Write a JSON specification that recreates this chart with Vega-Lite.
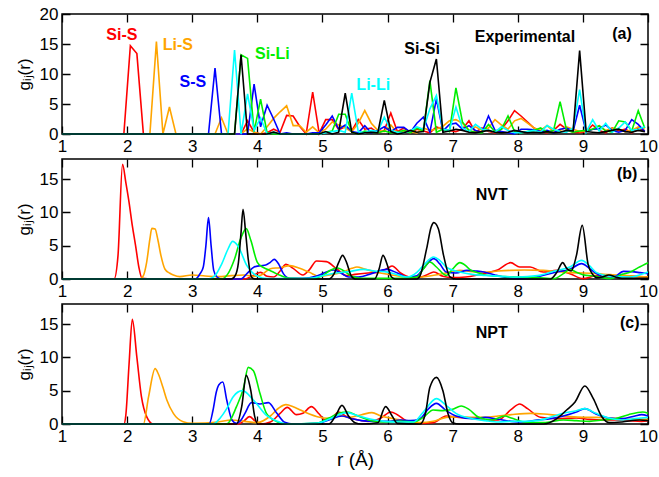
{
"$schema": "https://vega.github.io/schema/vega-lite/v6.json",
"padding": {"left": 14, "top": 4, "right": 5, "bottom": 4},
"bounds": "flush",
"spacing": 25,
"config": {
 "view": {"stroke": "black", "strokeWidth": 1.5},
 "font": "Liberation Sans",
 "axis": {"domain": false, "ticks": false, "grid": true, "gridColor": "black", "gridOpacity": 1, "gridWidth": 1.3, "labelFontSize": 17, "labelColor": "black", "labelFlush": false, "labelOverlap": false, "labelPadding": 4, "titleFontSize": 17, "titleFontWeight": "normal", "titleColor": "black", "titlePadding": 6},
 "axisX": {"gridDash": [8, 104]},
 "axisY": {"gridDash": [8, 570]}
},
"datasets": {
"a": [
{"s":"Si-S","r":1.0,"g":0},{"s":"Si-S","r":1.95,"g":0},{"s":"Si-S","r":2.05,"g":14.7},{"s":"Si-S","r":2.15,"g":13.4},{"s":"Si-S","r":2.25,"g":0},{"s":"Si-S","r":3.75,"g":0},{"s":"Si-S","r":3.85,"g":2.2},{"s":"Si-S","r":3.95,"g":0.3},{"s":"Si-S","r":4.05,"g":0},{"s":"Si-S","r":4.15,"g":0.2},{"s":"Si-S","r":4.25,"g":0.8},{"s":"Si-S","r":4.35,"g":0.3},{"s":"Si-S","r":4.45,"g":3.1},{"s":"Si-S","r":4.55,"g":3.0},{"s":"Si-S","r":4.65,"g":1.3},{"s":"Si-S","r":4.75,"g":0},{"s":"Si-S","r":4.85,"g":7.0},{"s":"Si-S","r":4.95,"g":0.1},{"s":"Si-S","r":5.05,"g":2.4},{"s":"Si-S","r":5.15,"g":2.4},{"s":"Si-S","r":5.25,"g":0.7},{"s":"Si-S","r":5.35,"g":1.2},{"s":"Si-S","r":5.45,"g":0.5},{"s":"Si-S","r":5.55,"g":2.4},{"s":"Si-S","r":5.65,"g":0.8},{"s":"Si-S","r":5.75,"g":1.0},{"s":"Si-S","r":5.85,"g":0.2},{"s":"Si-S","r":5.95,"g":0.6},{"s":"Si-S","r":6.05,"g":3.5},{"s":"Si-S","r":6.15,"g":0.4},{"s":"Si-S","r":6.25,"g":1.0},{"s":"Si-S","r":6.35,"g":0.2},{"s":"Si-S","r":6.45,"g":0.8},{"s":"Si-S","r":6.55,"g":0.5},{"s":"Si-S","r":6.65,"g":0.2},{"s":"Si-S","r":6.75,"g":1.2},{"s":"Si-S","r":6.85,"g":0.8},{"s":"Si-S","r":6.95,"g":0.6},{"s":"Si-S","r":7.05,"g":0.4},{"s":"Si-S","r":7.15,"g":0.8},{"s":"Si-S","r":7.25,"g":2.2},{"s":"Si-S","r":7.35,"g":0.3},{"s":"Si-S","r":7.45,"g":1.0},{"s":"Si-S","r":7.55,"g":0.4},{"s":"Si-S","r":7.65,"g":0.2},{"s":"Si-S","r":7.75,"g":0.8},{"s":"Si-S","r":7.85,"g":2.2},{"s":"Si-S","r":7.95,"g":3.9},{"s":"Si-S","r":8.05,"g":3.0},{"s":"Si-S","r":8.15,"g":2.0},{"s":"Si-S","r":8.25,"g":1.0},{"s":"Si-S","r":8.35,"g":0.4},{"s":"Si-S","r":8.45,"g":0.2},{"s":"Si-S","r":8.55,"g":0.6},{"s":"Si-S","r":8.65,"g":1.6},{"s":"Si-S","r":8.75,"g":0.8},{"s":"Si-S","r":8.85,"g":0.3},{"s":"Si-S","r":8.95,"g":0.2},{"s":"Si-S","r":9.05,"g":0.4},{"s":"Si-S","r":9.15,"g":1.5},{"s":"Si-S","r":9.25,"g":0.6},{"s":"Si-S","r":9.35,"g":0.2},{"s":"Si-S","r":9.45,"g":1.0},{"s":"Si-S","r":9.55,"g":0.5},{"s":"Si-S","r":9.65,"g":0.8},{"s":"Si-S","r":9.75,"g":0.2},{"s":"Si-S","r":9.85,"g":1.0},{"s":"Si-S","r":9.95,"g":0.4},
{"s":"Li-S","r":1.0,"g":0},{"s":"Li-S","r":2.35,"g":0},{"s":"Li-S","r":2.45,"g":15.4},{"s":"Li-S","r":2.55,"g":0},{"s":"Li-S","r":2.65,"g":4.5},{"s":"Li-S","r":2.75,"g":0},{"s":"Li-S","r":3.35,"g":0},{"s":"Li-S","r":3.45,"g":2.7},{"s":"Li-S","r":3.55,"g":0},{"s":"Li-S","r":3.75,"g":0},{"s":"Li-S","r":3.85,"g":0.9},{"s":"Li-S","r":3.95,"g":0.3},{"s":"Li-S","r":4.05,"g":0},{"s":"Li-S","r":4.15,"g":1.2},{"s":"Li-S","r":4.25,"g":2.6},{"s":"Li-S","r":4.35,"g":3.7},{"s":"Li-S","r":4.45,"g":4.7},{"s":"Li-S","r":4.55,"g":1.4},{"s":"Li-S","r":4.65,"g":1.4},{"s":"Li-S","r":4.75,"g":0.3},{"s":"Li-S","r":4.85,"g":1.2},{"s":"Li-S","r":4.95,"g":0.2},{"s":"Li-S","r":5.05,"g":0.8},{"s":"Li-S","r":5.15,"g":2.0},{"s":"Li-S","r":5.25,"g":1.5},{"s":"Li-S","r":5.35,"g":1.0},{"s":"Li-S","r":5.45,"g":0.4},{"s":"Li-S","r":5.55,"g":1.8},{"s":"Li-S","r":5.65,"g":3.9},{"s":"Li-S","r":5.75,"g":1.8},{"s":"Li-S","r":5.85,"g":0.6},{"s":"Li-S","r":5.95,"g":0.4},{"s":"Li-S","r":6.05,"g":1.5},{"s":"Li-S","r":6.15,"g":0.2},{"s":"Li-S","r":6.25,"g":0.5},{"s":"Li-S","r":6.35,"g":0.4},{"s":"Li-S","r":6.45,"g":0.2},{"s":"Li-S","r":6.55,"g":1.0},{"s":"Li-S","r":6.65,"g":0.6},{"s":"Li-S","r":6.75,"g":0.8},{"s":"Li-S","r":6.85,"g":1.3},{"s":"Li-S","r":6.95,"g":2.2},{"s":"Li-S","r":7.05,"g":2.4},{"s":"Li-S","r":7.15,"g":1.8},{"s":"Li-S","r":7.25,"g":0.6},{"s":"Li-S","r":7.35,"g":1.2},{"s":"Li-S","r":7.45,"g":0.6},{"s":"Li-S","r":7.55,"g":1.0},{"s":"Li-S","r":7.65,"g":2.4},{"s":"Li-S","r":7.75,"g":1.5},{"s":"Li-S","r":7.85,"g":0.8},{"s":"Li-S","r":7.95,"g":2.2},{"s":"Li-S","r":8.05,"g":2.6},{"s":"Li-S","r":8.15,"g":1.8},{"s":"Li-S","r":8.25,"g":1.0},{"s":"Li-S","r":8.35,"g":0.6},{"s":"Li-S","r":8.45,"g":1.4},{"s":"Li-S","r":8.55,"g":0.4},{"s":"Li-S","r":8.65,"g":0.6},{"s":"Li-S","r":8.75,"g":1.2},{"s":"Li-S","r":8.85,"g":0.8},{"s":"Li-S","r":8.95,"g":0.4},{"s":"Li-S","r":9.05,"g":0.5},{"s":"Li-S","r":9.15,"g":0.8},{"s":"Li-S","r":9.25,"g":1.4},{"s":"Li-S","r":9.35,"g":0.6},{"s":"Li-S","r":9.45,"g":1.0},{"s":"Li-S","r":9.55,"g":0.8},{"s":"Li-S","r":9.65,"g":0.4},{"s":"Li-S","r":9.75,"g":0.6},{"s":"Li-S","r":9.85,"g":1.2},{"s":"Li-S","r":9.95,"g":0.8},
{"s":"S-S","r":1.0,"g":0},{"s":"S-S","r":3.25,"g":0},{"s":"S-S","r":3.35,"g":11.0},{"s":"S-S","r":3.45,"g":0},{"s":"S-S","r":3.85,"g":0},{"s":"S-S","r":3.95,"g":8.3},{"s":"S-S","r":4.05,"g":1.2},{"s":"S-S","r":4.15,"g":4.8},{"s":"S-S","r":4.25,"g":2.5},{"s":"S-S","r":4.35,"g":0},{"s":"S-S","r":4.45,"g":0.2},{"s":"S-S","r":4.55,"g":0},{"s":"S-S","r":4.75,"g":0},{"s":"S-S","r":4.85,"g":0.2},{"s":"S-S","r":4.95,"g":0.2},{"s":"S-S","r":5.05,"g":1.5},{"s":"S-S","r":5.15,"g":3.0},{"s":"S-S","r":5.25,"g":0.8},{"s":"S-S","r":5.35,"g":1.5},{"s":"S-S","r":5.45,"g":0.4},{"s":"S-S","r":5.55,"g":0.2},{"s":"S-S","r":5.65,"g":1.4},{"s":"S-S","r":5.75,"g":0.2},{"s":"S-S","r":5.85,"g":0.6},{"s":"S-S","r":5.95,"g":1.2},{"s":"S-S","r":6.05,"g":0.4},{"s":"S-S","r":6.15,"g":1.1},{"s":"S-S","r":6.25,"g":1.1},{"s":"S-S","r":6.35,"g":0.3},{"s":"S-S","r":6.45,"g":1.8},{"s":"S-S","r":6.55,"g":2.8},{"s":"S-S","r":6.65,"g":0.3},{"s":"S-S","r":6.75,"g":5.8},{"s":"S-S","r":6.85,"g":0.5},{"s":"S-S","r":6.95,"g":1.6},{"s":"S-S","r":7.05,"g":1.8},{"s":"S-S","r":7.15,"g":0.8},{"s":"S-S","r":7.25,"g":1.4},{"s":"S-S","r":7.35,"g":0.6},{"s":"S-S","r":7.45,"g":0.3},{"s":"S-S","r":7.55,"g":3.0},{"s":"S-S","r":7.65,"g":0.6},{"s":"S-S","r":7.75,"g":0.4},{"s":"S-S","r":7.85,"g":0.2},{"s":"S-S","r":7.95,"g":0},{"s":"S-S","r":8.05,"g":0.8},{"s":"S-S","r":8.15,"g":0.8},{"s":"S-S","r":8.25,"g":0.7},{"s":"S-S","r":8.35,"g":0.4},{"s":"S-S","r":8.45,"g":0.6},{"s":"S-S","r":8.55,"g":0.2},{"s":"S-S","r":8.65,"g":0.8},{"s":"S-S","r":8.75,"g":1.0},{"s":"S-S","r":8.85,"g":0.5},{"s":"S-S","r":8.95,"g":4.8},{"s":"S-S","r":9.05,"g":0.4},{"s":"S-S","r":9.15,"g":0.8},{"s":"S-S","r":9.25,"g":0.9},{"s":"S-S","r":9.35,"g":1.5},{"s":"S-S","r":9.45,"g":0.6},{"s":"S-S","r":9.55,"g":0.3},{"s":"S-S","r":9.65,"g":0.6},{"s":"S-S","r":9.75,"g":2.4},{"s":"S-S","r":9.85,"g":1.6},{"s":"S-S","r":9.95,"g":0.4},
{"s":"Si-Li","r":1.0,"g":0},{"s":"Si-Li","r":3.65,"g":0},{"s":"Si-Li","r":3.75,"g":13.2},{"s":"Si-Li","r":3.85,"g":12.6},{"s":"Si-Li","r":3.95,"g":0.4},{"s":"Si-Li","r":4.05,"g":5.8},{"s":"Si-Li","r":4.15,"g":0.2},{"s":"Si-Li","r":4.25,"g":0},{"s":"Si-Li","r":4.95,"g":0},{"s":"Si-Li","r":5.05,"g":0.3},{"s":"Si-Li","r":5.15,"g":0.5},{"s":"Si-Li","r":5.25,"g":3.3},{"s":"Si-Li","r":5.35,"g":3.3},{"s":"Si-Li","r":5.45,"g":0.3},{"s":"Si-Li","r":5.55,"g":0},{"s":"Si-Li","r":5.65,"g":0.5},{"s":"Si-Li","r":5.75,"g":0.3},{"s":"Si-Li","r":5.85,"g":0.2},{"s":"Si-Li","r":5.95,"g":0.5},{"s":"Si-Li","r":6.05,"g":0.2},{"s":"Si-Li","r":6.15,"g":0.3},{"s":"Si-Li","r":6.25,"g":0.6},{"s":"Si-Li","r":6.35,"g":0.2},{"s":"Si-Li","r":6.45,"g":1.0},{"s":"Si-Li","r":6.55,"g":0.5},{"s":"Si-Li","r":6.65,"g":8.9},{"s":"Si-Li","r":6.75,"g":0.3},{"s":"Si-Li","r":6.85,"g":0.8},{"s":"Si-Li","r":6.95,"g":0.4},{"s":"Si-Li","r":7.05,"g":7.7},{"s":"Si-Li","r":7.15,"g":2.0},{"s":"Si-Li","r":7.25,"g":0.6},{"s":"Si-Li","r":7.35,"g":0.3},{"s":"Si-Li","r":7.45,"g":0.2},{"s":"Si-Li","r":7.55,"g":1.6},{"s":"Si-Li","r":7.65,"g":0.4},{"s":"Si-Li","r":7.75,"g":0.8},{"s":"Si-Li","r":7.85,"g":3.0},{"s":"Si-Li","r":7.95,"g":0.4},{"s":"Si-Li","r":8.05,"g":0.2},{"s":"Si-Li","r":8.15,"g":0.4},{"s":"Si-Li","r":8.25,"g":0.6},{"s":"Si-Li","r":8.35,"g":1.0},{"s":"Si-Li","r":8.45,"g":0.3},{"s":"Si-Li","r":8.55,"g":0.6},{"s":"Si-Li","r":8.65,"g":5.4},{"s":"Si-Li","r":8.75,"g":0.6},{"s":"Si-Li","r":8.85,"g":0.3},{"s":"Si-Li","r":8.95,"g":0.5},{"s":"Si-Li","r":9.05,"g":0.6},{"s":"Si-Li","r":9.15,"g":0.8},{"s":"Si-Li","r":9.25,"g":1.4},{"s":"Si-Li","r":9.35,"g":0.5},{"s":"Si-Li","r":9.45,"g":0.3},{"s":"Si-Li","r":9.55,"g":2.2},{"s":"Si-Li","r":9.65,"g":2.0},{"s":"Si-Li","r":9.75,"g":0.5},{"s":"Si-Li","r":9.85,"g":3.9},{"s":"Si-Li","r":9.95,"g":1.0},
{"s":"Li-Li","r":1.0,"g":0},{"s":"Li-Li","r":3.55,"g":0},{"s":"Li-Li","r":3.65,"g":14.0},{"s":"Li-Li","r":3.75,"g":0},{"s":"Li-Li","r":3.85,"g":6.7},{"s":"Li-Li","r":3.95,"g":0.6},{"s":"Li-Li","r":4.05,"g":2.7},{"s":"Li-Li","r":4.15,"g":0},{"s":"Li-Li","r":4.25,"g":0.3},{"s":"Li-Li","r":4.35,"g":0},{"s":"Li-Li","r":4.95,"g":0},{"s":"Li-Li","r":5.05,"g":0.2},{"s":"Li-Li","r":5.15,"g":0.4},{"s":"Li-Li","r":5.25,"g":0.6},{"s":"Li-Li","r":5.35,"g":0.3},{"s":"Li-Li","r":5.45,"g":6.8},{"s":"Li-Li","r":5.55,"g":0.4},{"s":"Li-Li","r":5.65,"g":0.2},{"s":"Li-Li","r":5.75,"g":0.6},{"s":"Li-Li","r":5.85,"g":0.4},{"s":"Li-Li","r":5.95,"g":2.8},{"s":"Li-Li","r":6.05,"g":0.6},{"s":"Li-Li","r":6.15,"g":0.3},{"s":"Li-Li","r":6.25,"g":0.2},{"s":"Li-Li","r":6.35,"g":0.5},{"s":"Li-Li","r":6.45,"g":1.2},{"s":"Li-Li","r":6.55,"g":0.8},{"s":"Li-Li","r":6.65,"g":4.2},{"s":"Li-Li","r":6.75,"g":6.4},{"s":"Li-Li","r":6.85,"g":0.8},{"s":"Li-Li","r":6.95,"g":0.6},{"s":"Li-Li","r":7.05,"g":4.5},{"s":"Li-Li","r":7.15,"g":1.0},{"s":"Li-Li","r":7.25,"g":0.4},{"s":"Li-Li","r":7.35,"g":1.6},{"s":"Li-Li","r":7.45,"g":0.8},{"s":"Li-Li","r":7.55,"g":0.6},{"s":"Li-Li","r":7.65,"g":0.3},{"s":"Li-Li","r":7.75,"g":1.2},{"s":"Li-Li","r":7.85,"g":0.6},{"s":"Li-Li","r":7.95,"g":0.2},{"s":"Li-Li","r":8.05,"g":0.2},{"s":"Li-Li","r":8.15,"g":0.4},{"s":"Li-Li","r":8.25,"g":0.6},{"s":"Li-Li","r":8.35,"g":0.3},{"s":"Li-Li","r":8.45,"g":1.4},{"s":"Li-Li","r":8.55,"g":0.8},{"s":"Li-Li","r":8.65,"g":0.4},{"s":"Li-Li","r":8.75,"g":0.3},{"s":"Li-Li","r":8.85,"g":1.0},{"s":"Li-Li","r":8.95,"g":7.4},{"s":"Li-Li","r":9.05,"g":0.3},{"s":"Li-Li","r":9.15,"g":2.4},{"s":"Li-Li","r":9.25,"g":0.5},{"s":"Li-Li","r":9.35,"g":1.8},{"s":"Li-Li","r":9.45,"g":0.3},{"s":"Li-Li","r":9.55,"g":1.0},{"s":"Li-Li","r":9.65,"g":2.0},{"s":"Li-Li","r":9.75,"g":0.6},{"s":"Li-Li","r":9.85,"g":0.8},{"s":"Li-Li","r":9.95,"g":1.2},
{"s":"Si-Si","r":1.0,"g":0},{"s":"Si-Si","r":3.65,"g":0},{"s":"Si-Si","r":3.75,"g":13.2},{"s":"Si-Si","r":3.85,"g":0},{"s":"Si-Si","r":4.15,"g":0},{"s":"Si-Si","r":4.25,"g":0.3},{"s":"Si-Si","r":4.35,"g":0},{"s":"Si-Si","r":4.95,"g":0},{"s":"Si-Si","r":5.05,"g":0.4},{"s":"Si-Si","r":5.15,"g":0},{"s":"Si-Si","r":5.25,"g":0.3},{"s":"Si-Si","r":5.35,"g":6.8},{"s":"Si-Si","r":5.45,"g":0.3},{"s":"Si-Si","r":5.55,"g":0},{"s":"Si-Si","r":5.65,"g":0.2},{"s":"Si-Si","r":5.75,"g":0.3},{"s":"Si-Si","r":5.85,"g":0.2},{"s":"Si-Si","r":5.95,"g":5.6},{"s":"Si-Si","r":6.05,"g":0.4},{"s":"Si-Si","r":6.15,"g":0},{"s":"Si-Si","r":6.25,"g":0.2},{"s":"Si-Si","r":6.35,"g":0.6},{"s":"Si-Si","r":6.45,"g":0.3},{"s":"Si-Si","r":6.55,"g":0.4},{"s":"Si-Si","r":6.65,"g":8.6},{"s":"Si-Si","r":6.75,"g":12.5},{"s":"Si-Si","r":6.85,"g":0.3},{"s":"Si-Si","r":6.95,"g":0.5},{"s":"Si-Si","r":7.05,"g":0.8},{"s":"Si-Si","r":7.15,"g":0.6},{"s":"Si-Si","r":7.25,"g":0.3},{"s":"Si-Si","r":7.35,"g":0.2},{"s":"Si-Si","r":7.45,"g":0.4},{"s":"Si-Si","r":7.55,"g":0.6},{"s":"Si-Si","r":7.65,"g":0.3},{"s":"Si-Si","r":7.75,"g":0.2},{"s":"Si-Si","r":7.85,"g":0.3},{"s":"Si-Si","r":7.95,"g":0.6},{"s":"Si-Si","r":8.05,"g":0.4},{"s":"Si-Si","r":8.15,"g":0.2},{"s":"Si-Si","r":8.25,"g":0.3},{"s":"Si-Si","r":8.35,"g":0.2},{"s":"Si-Si","r":8.45,"g":0.4},{"s":"Si-Si","r":8.55,"g":0.2},{"s":"Si-Si","r":8.65,"g":0.3},{"s":"Si-Si","r":8.75,"g":0.6},{"s":"Si-Si","r":8.85,"g":0.5},{"s":"Si-Si","r":8.95,"g":13.9},{"s":"Si-Si","r":9.05,"g":0.4},{"s":"Si-Si","r":9.15,"g":0.3},{"s":"Si-Si","r":9.25,"g":0.2},{"s":"Si-Si","r":9.35,"g":0.4},{"s":"Si-Si","r":9.45,"g":0.6},{"s":"Si-Si","r":9.55,"g":0.8},{"s":"Si-Si","r":9.65,"g":0.4},{"s":"Si-Si","r":9.75,"g":0.3},{"s":"Si-Si","r":9.85,"g":0.6},{"s":"Si-Si","r":9.95,"g":0.4}
],
"b": [
{"s":"Si-S","r":1.0,"g":0},{"s":"Si-S","r":1.8,"g":0},{"s":"Si-S","r":1.86,"g":3.5},{"s":"Si-S","r":1.93,"g":17.2},{"s":"Si-S","r":1.98,"g":14.5},{"s":"Si-S","r":2.03,"g":11.5},{"s":"Si-S","r":2.08,"g":8.0},{"s":"Si-S","r":2.13,"g":5.0},{"s":"Si-S","r":2.18,"g":1.8},{"s":"Si-S","r":2.23,"g":0.1},{"s":"Si-S","r":2.4,"g":0},{"s":"Si-S","r":3.8,"g":0},{"s":"Si-S","r":3.95,"g":0.6},{"s":"Si-S","r":4.05,"g":1.0},{"s":"Si-S","r":4.15,"g":0.4},{"s":"Si-S","r":4.25,"g":0.3},{"s":"Si-S","r":4.35,"g":1.2},{"s":"Si-S","r":4.44,"g":2.2},{"s":"Si-S","r":4.55,"g":1.6},{"s":"Si-S","r":4.7,"g":0.6},{"s":"Si-S","r":4.8,"g":1.4},{"s":"Si-S","r":4.91,"g":2.7},{"s":"Si-S","r":5.06,"g":2.6},{"s":"Si-S","r":5.22,"g":1.5},{"s":"Si-S","r":5.37,"g":0.5},{"s":"Si-S","r":5.5,"g":0.7},{"s":"Si-S","r":5.7,"g":0.9},{"s":"Si-S","r":5.85,"g":1.0},{"s":"Si-S","r":6.0,"g":1.6},{"s":"Si-S","r":6.07,"g":1.95},{"s":"Si-S","r":6.2,"g":0.9},{"s":"Si-S","r":6.35,"g":0.3},{"s":"Si-S","r":6.5,"g":0.3},{"s":"Si-S","r":6.6,"g":0.6},{"s":"Si-S","r":6.71,"g":1.05},{"s":"Si-S","r":6.85,"g":0.4},{"s":"Si-S","r":7.0,"g":0.2},{"s":"Si-S","r":7.2,"g":0.3},{"s":"Si-S","r":7.52,"g":0.9},{"s":"Si-S","r":7.7,"g":1.4},{"s":"Si-S","r":7.89,"g":2.45},{"s":"Si-S","r":8.03,"g":1.8},{"s":"Si-S","r":8.19,"g":1.8},{"s":"Si-S","r":8.39,"g":1.05},{"s":"Si-S","r":8.6,"g":1.3},{"s":"Si-S","r":8.8,"g":0.8},{"s":"Si-S","r":9.0,"g":0.05},{"s":"Si-S","r":9.21,"g":0.5},{"s":"Si-S","r":9.42,"g":0.3},{"s":"Si-S","r":9.62,"g":0.5},{"s":"Si-S","r":9.8,"g":0.4},{"s":"Si-S","r":10.0,"g":0.3},
{"s":"Li-S","r":1.0,"g":0},{"s":"Li-S","r":2.2,"g":0},{"s":"Li-S","r":2.25,"g":0.5},{"s":"Li-S","r":2.3,"g":2.5},{"s":"Li-S","r":2.35,"g":6.0},{"s":"Li-S","r":2.38,"g":7.6},{"s":"Li-S","r":2.43,"g":7.5},{"s":"Li-S","r":2.47,"g":6.0},{"s":"Li-S","r":2.52,"g":3.5},{"s":"Li-S","r":2.58,"g":1.5},{"s":"Li-S","r":2.65,"g":0.9},{"s":"Li-S","r":2.71,"g":0.6},{"s":"Li-S","r":2.81,"g":0.35},{"s":"Li-S","r":3.0,"g":0.6},{"s":"Li-S","r":3.2,"g":0.45},{"s":"Li-S","r":3.4,"g":0.35},{"s":"Li-S","r":3.6,"g":0.5},{"s":"Li-S","r":3.8,"g":0.6},{"s":"Li-S","r":3.95,"g":0.4},{"s":"Li-S","r":4.06,"g":0.6},{"s":"Li-S","r":4.2,"g":1.55},{"s":"Li-S","r":4.35,"g":1.7},{"s":"Li-S","r":4.5,"g":2.0},{"s":"Li-S","r":4.65,"g":1.6},{"s":"Li-S","r":4.8,"g":1.0},{"s":"Li-S","r":4.95,"g":0.4},{"s":"Li-S","r":5.1,"g":0.6},{"s":"Li-S","r":5.3,"g":1.0},{"s":"Li-S","r":5.45,"g":1.6},{"s":"Li-S","r":5.53,"g":1.8},{"s":"Li-S","r":5.65,"g":1.5},{"s":"Li-S","r":5.8,"g":1.1},{"s":"Li-S","r":6.0,"g":0.7},{"s":"Li-S","r":6.2,"g":0.4},{"s":"Li-S","r":6.35,"g":0.3},{"s":"Li-S","r":6.5,"g":0.3},{"s":"Li-S","r":6.71,"g":0.55},{"s":"Li-S","r":6.9,"g":0.9},{"s":"Li-S","r":7.11,"g":1.3},{"s":"Li-S","r":7.3,"g":1.1},{"s":"Li-S","r":7.52,"g":1.05},{"s":"Li-S","r":7.7,"g":1.2},{"s":"Li-S","r":7.89,"g":1.3},{"s":"Li-S","r":8.1,"g":1.35},{"s":"Li-S","r":8.39,"g":1.3},{"s":"Li-S","r":8.6,"g":1.1},{"s":"Li-S","r":8.8,"g":0.95},{"s":"Li-S","r":9.0,"g":0.9},{"s":"Li-S","r":9.21,"g":0.8},{"s":"Li-S","r":9.42,"g":0.65},{"s":"Li-S","r":9.62,"g":0.55},{"s":"Li-S","r":9.8,"g":0.4},{"s":"Li-S","r":10.0,"g":0.3},
{"s":"S-S","r":1.0,"g":0},{"s":"S-S","r":3.05,"g":0},{"s":"S-S","r":3.12,"g":0.8},{"s":"S-S","r":3.17,"g":1.8},{"s":"S-S","r":3.21,"g":5.0},{"s":"S-S","r":3.25,"g":9.2},{"s":"S-S","r":3.29,"g":5.0},{"s":"S-S","r":3.33,"g":1.3},{"s":"S-S","r":3.38,"g":0.3},{"s":"S-S","r":3.45,"g":0},{"s":"S-S","r":3.75,"g":0},{"s":"S-S","r":3.84,"g":0.8},{"s":"S-S","r":3.95,"g":1.8},{"s":"S-S","r":4.05,"g":2.0},{"s":"S-S","r":4.13,"g":2.1},{"s":"S-S","r":4.2,"g":2.5},{"s":"S-S","r":4.26,"g":2.95},{"s":"S-S","r":4.33,"g":2.2},{"s":"S-S","r":4.4,"g":0.8},{"s":"S-S","r":4.5,"g":0.1},{"s":"S-S","r":4.7,"g":0.1},{"s":"S-S","r":4.9,"g":0.4},{"s":"S-S","r":5.05,"g":1.0},{"s":"S-S","r":5.17,"g":1.35},{"s":"S-S","r":5.3,"g":0.8},{"s":"S-S","r":5.4,"g":0.3},{"s":"S-S","r":5.55,"g":0.3},{"s":"S-S","r":5.75,"g":0.8},{"s":"S-S","r":5.9,"g":1.3},{"s":"S-S","r":5.99,"g":1.45},{"s":"S-S","r":6.15,"g":0.9},{"s":"S-S","r":6.3,"g":0.3},{"s":"S-S","r":6.45,"g":0.5},{"s":"S-S","r":6.55,"g":1.55},{"s":"S-S","r":6.71,"g":3.05},{"s":"S-S","r":6.8,"g":2.3},{"s":"S-S","r":6.9,"g":1.05},{"s":"S-S","r":7.05,"g":0.9},{"s":"S-S","r":7.22,"g":1.3},{"s":"S-S","r":7.35,"g":1.2},{"s":"S-S","r":7.48,"g":1.05},{"s":"S-S","r":7.65,"g":0.6},{"s":"S-S","r":7.78,"g":0.3},{"s":"S-S","r":8.03,"g":0.05},{"s":"S-S","r":8.29,"g":0.3},{"s":"S-S","r":8.55,"g":0.95},{"s":"S-S","r":8.8,"g":1.45},{"s":"S-S","r":8.98,"g":2.3},{"s":"S-S","r":9.1,"g":1.6},{"s":"S-S","r":9.21,"g":0.8},{"s":"S-S","r":9.4,"g":0.05},{"s":"S-S","r":9.5,"g":0.4},{"s":"S-S","r":9.62,"g":1.15},{"s":"S-S","r":9.75,"g":1.1},{"s":"S-S","r":9.88,"g":0.95},{"s":"S-S","r":10.0,"g":0.8},
{"s":"Si-Li","r":1.0,"g":0},{"s":"Si-Li","r":3.45,"g":0},{"s":"Si-Li","r":3.55,"g":0.8},{"s":"Si-Li","r":3.65,"g":3.0},{"s":"Si-Li","r":3.75,"g":6.2},{"s":"Si-Li","r":3.83,"g":7.55},{"s":"Si-Li","r":3.9,"g":5.8},{"s":"Si-Li","r":4.0,"g":2.5},{"s":"Si-Li","r":4.08,"g":1.8},{"s":"Si-Li","r":4.15,"g":1.45},{"s":"Si-Li","r":4.25,"g":1.0},{"s":"Si-Li","r":4.35,"g":0.55},{"s":"Si-Li","r":4.5,"g":0.1},{"s":"Si-Li","r":4.8,"g":0.05},{"s":"Si-Li","r":5.0,"g":0.5},{"s":"Si-Li","r":5.12,"g":1.3},{"s":"Si-Li","r":5.22,"g":1.65},{"s":"Si-Li","r":5.3,"g":1.4},{"s":"Si-Li","r":5.45,"g":0.4},{"s":"Si-Li","r":5.6,"g":0.1},{"s":"Si-Li","r":5.9,"g":0.1},{"s":"Si-Li","r":6.2,"g":0.1},{"s":"Si-Li","r":6.45,"g":0.3},{"s":"Si-Li","r":6.55,"g":1.5},{"s":"Si-Li","r":6.65,"g":2.55},{"s":"Si-Li","r":6.75,"g":1.8},{"s":"Si-Li","r":6.9,"g":0.55},{"s":"Si-Li","r":7.0,"g":1.5},{"s":"Si-Li","r":7.11,"g":2.45},{"s":"Si-Li","r":7.2,"g":2.0},{"s":"Si-Li","r":7.26,"g":1.45},{"s":"Si-Li","r":7.4,"g":0.9},{"s":"Si-Li","r":7.52,"g":0.55},{"s":"Si-Li","r":7.8,"g":0.35},{"s":"Si-Li","r":8.0,"g":0.3},{"s":"Si-Li","r":8.3,"g":0.2},{"s":"Si-Li","r":8.55,"g":0.05},{"s":"Si-Li","r":8.7,"g":0.8},{"s":"Si-Li","r":8.8,"g":1.45},{"s":"Si-Li","r":8.9,"g":1.0},{"s":"Si-Li","r":9.0,"g":0.65},{"s":"Si-Li","r":9.2,"g":0.4},{"s":"Si-Li","r":9.42,"g":0.05},{"s":"Si-Li","r":9.6,"g":0.7},{"s":"Si-Li","r":9.73,"g":1.05},{"s":"Si-Li","r":9.85,"g":1.7},{"s":"Si-Li","r":10.0,"g":2.45},
{"s":"Li-Li","r":1.0,"g":0},{"s":"Li-Li","r":3.25,"g":0},{"s":"Li-Li","r":3.35,"g":0.5},{"s":"Li-Li","r":3.45,"g":2.2},{"s":"Li-Li","r":3.55,"g":4.5},{"s":"Li-Li","r":3.62,"g":5.65},{"s":"Li-Li","r":3.7,"g":5.0},{"s":"Li-Li","r":3.84,"g":2.0},{"s":"Li-Li","r":3.92,"g":1.0},{"s":"Li-Li","r":4.0,"g":0.45},{"s":"Li-Li","r":4.15,"g":0.05},{"s":"Li-Li","r":4.5,"g":0.05},{"s":"Li-Li","r":4.8,"g":0.1},{"s":"Li-Li","r":5.0,"g":0.5},{"s":"Li-Li","r":5.2,"g":0.9},{"s":"Li-Li","r":5.4,"g":1.1},{"s":"Li-Li","r":5.63,"g":1.45},{"s":"Li-Li","r":5.8,"g":1.2},{"s":"Li-Li","r":5.95,"g":1.1},{"s":"Li-Li","r":6.1,"g":0.8},{"s":"Li-Li","r":6.3,"g":0.3},{"s":"Li-Li","r":6.45,"g":1.0},{"s":"Li-Li","r":6.55,"g":2.05},{"s":"Li-Li","r":6.71,"g":3.3},{"s":"Li-Li","r":6.8,"g":2.8},{"s":"Li-Li","r":6.9,"g":1.8},{"s":"Li-Li","r":7.11,"g":1.05},{"s":"Li-Li","r":7.3,"g":0.7},{"s":"Li-Li","r":7.5,"g":0.55},{"s":"Li-Li","r":7.75,"g":0.4},{"s":"Li-Li","r":8.0,"g":0.3},{"s":"Li-Li","r":8.3,"g":0.5},{"s":"Li-Li","r":8.55,"g":1.15},{"s":"Li-Li","r":8.8,"g":1.8},{"s":"Li-Li","r":8.98,"g":2.8},{"s":"Li-Li","r":9.1,"g":2.0},{"s":"Li-Li","r":9.21,"g":0.95},{"s":"Li-Li","r":9.42,"g":0.4},{"s":"Li-Li","r":9.73,"g":0.3},{"s":"Li-Li","r":9.9,"g":0.7},{"s":"Li-Li","r":10.0,"g":1.05},
{"s":"Si-Si","r":1.0,"g":0},{"s":"Si-Si","r":3.6,"g":0},{"s":"Si-Si","r":3.66,"g":0.5},{"s":"Si-Si","r":3.71,"g":2.5},{"s":"Si-Si","r":3.75,"g":7.0},{"s":"Si-Si","r":3.78,"g":10.45},{"s":"Si-Si","r":3.82,"g":7.0},{"s":"Si-Si","r":3.86,"g":3.0},{"s":"Si-Si","r":3.91,"g":0.3},{"s":"Si-Si","r":3.96,"g":0},{"s":"Si-Si","r":5.1,"g":0},{"s":"Si-Si","r":5.18,"g":0.8},{"s":"Si-Si","r":5.25,"g":2.5},{"s":"Si-Si","r":5.31,"g":3.55},{"s":"Si-Si","r":5.37,"g":2.5},{"s":"Si-Si","r":5.44,"g":0.5},{"s":"Si-Si","r":5.5,"g":0},{"s":"Si-Si","r":5.8,"g":0},{"s":"Si-Si","r":5.87,"g":1.5},{"s":"Si-Si","r":5.93,"g":3.55},{"s":"Si-Si","r":6.0,"g":2.0},{"s":"Si-Si","r":6.06,"g":0.3},{"s":"Si-Si","r":6.12,"g":0},{"s":"Si-Si","r":6.45,"g":0},{"s":"Si-Si","r":6.5,"g":0.5},{"s":"Si-Si","r":6.6,"g":4.55},{"s":"Si-Si","r":6.67,"g":7.8},{"s":"Si-Si","r":6.71,"g":8.45},{"s":"Si-Si","r":6.78,"g":7.55},{"s":"Si-Si","r":6.86,"g":3.55},{"s":"Si-Si","r":6.96,"g":0.3},{"s":"Si-Si","r":7.05,"g":0},{"s":"Si-Si","r":8.5,"g":0},{"s":"Si-Si","r":8.6,"g":1.0},{"s":"Si-Si","r":8.69,"g":2.45},{"s":"Si-Si","r":8.75,"g":1.6},{"s":"Si-Si","r":8.82,"g":1.2},{"s":"Si-Si","r":8.9,"g":3.5},{"s":"Si-Si","r":8.99,"g":8.05},{"s":"Si-Si","r":9.08,"g":2.2},{"s":"Si-Si","r":9.15,"g":0.7},{"s":"Si-Si","r":9.21,"g":0.2},{"s":"Si-Si","r":9.3,"g":0.3},{"s":"Si-Si","r":9.4,"g":0.6},{"s":"Si-Si","r":9.5,"g":0.3},{"s":"Si-Si","r":9.6,"g":0.1},{"s":"Si-Si","r":10.0,"g":0.1}
],
"c": [
{"s":"Si-S","r":1.0,"g":0},{"s":"Si-S","r":1.95,"g":0},{"s":"Si-S","r":1.98,"g":1.3},{"s":"Si-S","r":2.03,"g":9.0},{"s":"Si-S","r":2.08,"g":15.7},{"s":"Si-S","r":2.15,"g":10.0},{"s":"Si-S","r":2.22,"g":4.1},{"s":"Si-S","r":2.3,"g":1.1},{"s":"Si-S","r":2.4,"g":0},{"s":"Si-S","r":3.7,"g":0},{"s":"Si-S","r":3.8,"g":0.5},{"s":"Si-S","r":3.88,"g":1.1},{"s":"Si-S","r":3.96,"g":0.5},{"s":"Si-S","r":4.05,"g":0},{"s":"Si-S","r":4.2,"g":0.3},{"s":"Si-S","r":4.35,"g":1.6},{"s":"Si-S","r":4.46,"g":2.5},{"s":"Si-S","r":4.6,"g":1.4},{"s":"Si-S","r":4.7,"g":1.6},{"s":"Si-S","r":4.83,"g":2.6},{"s":"Si-S","r":4.95,"g":1.5},{"s":"Si-S","r":5.04,"g":0.6},{"s":"Si-S","r":5.15,"g":1.0},{"s":"Si-S","r":5.25,"g":1.8},{"s":"Si-S","r":5.35,"g":1.2},{"s":"Si-S","r":5.5,"g":0.7},{"s":"Si-S","r":5.7,"g":0.4},{"s":"Si-S","r":5.9,"g":0.9},{"s":"Si-S","r":6.05,"g":1.8},{"s":"Si-S","r":6.15,"g":1.4},{"s":"Si-S","r":6.3,"g":0.4},{"s":"Si-S","r":6.5,"g":0.1},{"s":"Si-S","r":6.7,"g":0.2},{"s":"Si-S","r":6.9,"g":1.2},{"s":"Si-S","r":7.1,"g":1.0},{"s":"Si-S","r":7.3,"g":0.9},{"s":"Si-S","r":7.5,"g":0.6},{"s":"Si-S","r":7.7,"g":0.6},{"s":"Si-S","r":7.9,"g":2.2},{"s":"Si-S","r":8.03,"g":3.0},{"s":"Si-S","r":8.15,"g":2.3},{"s":"Si-S","r":8.35,"g":1.0},{"s":"Si-S","r":8.6,"g":0.8},{"s":"Si-S","r":8.9,"g":0.9},{"s":"Si-S","r":9.1,"g":0.7},{"s":"Si-S","r":9.3,"g":0.6},{"s":"Si-S","r":9.5,"g":0.6},{"s":"Si-S","r":9.7,"g":0.5},{"s":"Si-S","r":9.9,"g":0.4},{"s":"Si-S","r":10.0,"g":0.5},
{"s":"Li-S","r":1.0,"g":0},{"s":"Li-S","r":2.25,"g":0},{"s":"Li-S","r":2.33,"g":4.1},{"s":"Li-S","r":2.43,"g":8.3},{"s":"Li-S","r":2.48,"g":7.5},{"s":"Li-S","r":2.55,"g":5.5},{"s":"Li-S","r":2.61,"g":3.6},{"s":"Li-S","r":2.71,"g":1.6},{"s":"Li-S","r":2.86,"g":0.35},{"s":"Li-S","r":3.0,"g":0.1},{"s":"Li-S","r":3.4,"g":0.3},{"s":"Li-S","r":3.6,"g":0.6},{"s":"Li-S","r":3.8,"g":0.4},{"s":"Li-S","r":4.0,"g":0.2},{"s":"Li-S","r":4.2,"g":1.2},{"s":"Li-S","r":4.33,"g":2.4},{"s":"Li-S","r":4.44,"g":2.9},{"s":"Li-S","r":4.55,"g":2.6},{"s":"Li-S","r":4.66,"g":2.1},{"s":"Li-S","r":4.8,"g":1.5},{"s":"Li-S","r":4.92,"g":1.1},{"s":"Li-S","r":5.1,"g":0.85},{"s":"Li-S","r":5.25,"g":1.3},{"s":"Li-S","r":5.4,"g":1.0},{"s":"Li-S","r":5.6,"g":1.4},{"s":"Li-S","r":5.76,"g":1.7},{"s":"Li-S","r":5.9,"g":1.2},{"s":"Li-S","r":6.1,"g":0.8},{"s":"Li-S","r":6.3,"g":0.4},{"s":"Li-S","r":6.5,"g":0.2},{"s":"Li-S","r":6.7,"g":0.4},{"s":"Li-S","r":6.9,"g":1.0},{"s":"Li-S","r":7.1,"g":1.1},{"s":"Li-S","r":7.3,"g":1.0},{"s":"Li-S","r":7.5,"g":1.0},{"s":"Li-S","r":7.7,"g":1.2},{"s":"Li-S","r":7.9,"g":1.4},{"s":"Li-S","r":8.2,"g":1.6},{"s":"Li-S","r":8.4,"g":1.5},{"s":"Li-S","r":8.6,"g":1.3},{"s":"Li-S","r":8.8,"g":1.1},{"s":"Li-S","r":9.0,"g":1.0},{"s":"Li-S","r":9.2,"g":1.0},{"s":"Li-S","r":9.4,"g":0.9},{"s":"Li-S","r":9.6,"g":0.8},{"s":"Li-S","r":9.8,"g":0.7},{"s":"Li-S","r":10.0,"g":0.7},
{"s":"S-S","r":1.0,"g":0},{"s":"S-S","r":3.26,"g":0},{"s":"S-S","r":3.32,"g":2.1},{"s":"S-S","r":3.37,"g":4.8},{"s":"S-S","r":3.41,"g":5.9},{"s":"S-S","r":3.47,"g":6.3},{"s":"S-S","r":3.53,"g":3.6},{"s":"S-S","r":3.61,"g":0.6},{"s":"S-S","r":3.68,"g":0.1},{"s":"S-S","r":3.75,"g":0.6},{"s":"S-S","r":3.81,"g":1.6},{"s":"S-S","r":3.91,"g":3.2},{"s":"S-S","r":4.04,"g":3.0},{"s":"S-S","r":4.17,"g":3.2},{"s":"S-S","r":4.3,"g":1.6},{"s":"S-S","r":4.42,"g":0.25},{"s":"S-S","r":4.55,"g":0},{"s":"S-S","r":4.9,"g":0.1},{"s":"S-S","r":5.1,"g":0.6},{"s":"S-S","r":5.3,"g":1.2},{"s":"S-S","r":5.45,"g":0.8},{"s":"S-S","r":5.6,"g":0.5},{"s":"S-S","r":5.8,"g":0.4},{"s":"S-S","r":6.0,"g":0.4},{"s":"S-S","r":6.2,"g":0.6},{"s":"S-S","r":6.35,"g":0.5},{"s":"S-S","r":6.5,"g":0.8},{"s":"S-S","r":6.62,"g":2.2},{"s":"S-S","r":6.75,"g":3.1},{"s":"S-S","r":6.9,"g":2.0},{"s":"S-S","r":7.05,"g":1.2},{"s":"S-S","r":7.3,"g":0.8},{"s":"S-S","r":7.5,"g":1.0},{"s":"S-S","r":7.7,"g":0.7},{"s":"S-S","r":7.9,"g":0.4},{"s":"S-S","r":8.1,"g":0.3},{"s":"S-S","r":8.3,"g":0.6},{"s":"S-S","r":8.5,"g":0.8},{"s":"S-S","r":8.7,"g":1.2},{"s":"S-S","r":8.9,"g":1.8},{"s":"S-S","r":9.03,"g":2.3},{"s":"S-S","r":9.2,"g":1.5},{"s":"S-S","r":9.4,"g":0.9},{"s":"S-S","r":9.6,"g":0.8},{"s":"S-S","r":9.8,"g":1.2},{"s":"S-S","r":9.9,"g":1.4},{"s":"S-S","r":10.0,"g":1.2},
{"s":"Si-Li","r":1.0,"g":0},{"s":"Si-Li","r":3.53,"g":0},{"s":"Si-Li","r":3.68,"g":2.6},{"s":"Si-Li","r":3.79,"g":5.5},{"s":"Si-Li","r":3.86,"g":8.5},{"s":"Si-Li","r":3.94,"g":8.0},{"s":"Si-Li","r":4.04,"g":4.6},{"s":"Si-Li","r":4.14,"g":1.6},{"s":"Si-Li","r":4.3,"g":0.35},{"s":"Si-Li","r":4.45,"g":0},{"s":"Si-Li","r":4.9,"g":0.1},{"s":"Si-Li","r":5.1,"g":0.9},{"s":"Si-Li","r":5.25,"g":1.6},{"s":"Si-Li","r":5.38,"g":1.8},{"s":"Si-Li","r":5.55,"g":1.2},{"s":"Si-Li","r":5.75,"g":0.5},{"s":"Si-Li","r":5.95,"g":0.3},{"s":"Si-Li","r":6.2,"g":0.4},{"s":"Si-Li","r":6.4,"g":0.3},{"s":"Si-Li","r":6.55,"g":1.0},{"s":"Si-Li","r":6.7,"g":2.1},{"s":"Si-Li","r":6.85,"g":2.0},{"s":"Si-Li","r":7.0,"g":2.2},{"s":"Si-Li","r":7.13,"g":2.7},{"s":"Si-Li","r":7.25,"g":2.2},{"s":"Si-Li","r":7.4,"g":1.0},{"s":"Si-Li","r":7.6,"g":0.6},{"s":"Si-Li","r":7.8,"g":1.2},{"s":"Si-Li","r":7.9,"g":0.9},{"s":"Si-Li","r":8.1,"g":0.3},{"s":"Si-Li","r":8.4,"g":0.2},{"s":"Si-Li","r":8.7,"g":0.6},{"s":"Si-Li","r":8.9,"g":0.5},{"s":"Si-Li","r":9.1,"g":0.4},{"s":"Si-Li","r":9.3,"g":0.6},{"s":"Si-Li","r":9.5,"g":0.8},{"s":"Si-Li","r":9.7,"g":1.4},{"s":"Si-Li","r":9.92,"g":1.8},{"s":"Si-Li","r":10.0,"g":1.6},
{"s":"Li-Li","r":1.0,"g":0},{"s":"Li-Li","r":3.32,"g":0},{"s":"Li-Li","r":3.43,"g":0.9},{"s":"Li-Li","r":3.53,"g":2.3},{"s":"Li-Li","r":3.63,"g":4.1},{"s":"Li-Li","r":3.77,"g":5.0},{"s":"Li-Li","r":3.94,"g":3.6},{"s":"Li-Li","r":4.14,"g":1.3},{"s":"Li-Li","r":4.3,"g":0.45},{"s":"Li-Li","r":4.45,"g":0},{"s":"Li-Li","r":4.9,"g":0.1},{"s":"Li-Li","r":5.1,"g":0.7},{"s":"Li-Li","r":5.25,"g":1.4},{"s":"Li-Li","r":5.38,"g":1.7},{"s":"Li-Li","r":5.55,"g":1.2},{"s":"Li-Li","r":5.75,"g":0.7},{"s":"Li-Li","r":5.95,"g":0.4},{"s":"Li-Li","r":6.2,"g":0.3},{"s":"Li-Li","r":6.4,"g":0.3},{"s":"Li-Li","r":6.55,"g":1.8},{"s":"Li-Li","r":6.75,"g":3.8},{"s":"Li-Li","r":6.9,"g":2.8},{"s":"Li-Li","r":7.05,"g":1.6},{"s":"Li-Li","r":7.3,"g":0.8},{"s":"Li-Li","r":7.5,"g":0.5},{"s":"Li-Li","r":7.7,"g":0.3},{"s":"Li-Li","r":7.9,"g":0.4},{"s":"Li-Li","r":8.1,"g":0.4},{"s":"Li-Li","r":8.3,"g":0.5},{"s":"Li-Li","r":8.5,"g":1.0},{"s":"Li-Li","r":8.7,"g":1.6},{"s":"Li-Li","r":8.9,"g":2.0},{"s":"Li-Li","r":9.03,"g":2.3},{"s":"Li-Li","r":9.2,"g":1.6},{"s":"Li-Li","r":9.4,"g":0.9},{"s":"Li-Li","r":9.6,"g":0.6},{"s":"Li-Li","r":9.8,"g":0.8},{"s":"Li-Li","r":10.0,"g":1.0},
{"s":"Si-Si","r":1.0,"g":0},{"s":"Si-Si","r":3.68,"g":0},{"s":"Si-Si","r":3.76,"g":2.6},{"s":"Si-Si","r":3.83,"g":7.3},{"s":"Si-Si","r":3.9,"g":5.0},{"s":"Si-Si","r":3.96,"g":1.1},{"s":"Si-Si","r":4.01,"g":0},{"s":"Si-Si","r":5.1,"g":0},{"s":"Si-Si","r":5.2,"g":1.2},{"s":"Si-Si","r":5.3,"g":2.8},{"s":"Si-Si","r":5.4,"g":1.2},{"s":"Si-Si","r":5.5,"g":0.2},{"s":"Si-Si","r":5.6,"g":0},{"s":"Si-Si","r":5.85,"g":0.2},{"s":"Si-Si","r":5.97,"g":2.6},{"s":"Si-Si","r":6.07,"g":1.2},{"s":"Si-Si","r":6.15,"g":0.1},{"s":"Si-Si","r":6.5,"g":0},{"s":"Si-Si","r":6.58,"g":1.5},{"s":"Si-Si","r":6.65,"g":5.5},{"s":"Si-Si","r":6.75,"g":7.0},{"s":"Si-Si","r":6.85,"g":5.0},{"s":"Si-Si","r":6.93,"g":1.5},{"s":"Si-Si","r":7.0,"g":0.2},{"s":"Si-Si","r":7.1,"g":0},{"s":"Si-Si","r":8.4,"g":0},{"s":"Si-Si","r":8.6,"g":0.8},{"s":"Si-Si","r":8.75,"g":2.1},{"s":"Si-Si","r":8.88,"g":3.3},{"s":"Si-Si","r":9.03,"g":5.7},{"s":"Si-Si","r":9.16,"g":3.8},{"s":"Si-Si","r":9.29,"g":1.1},{"s":"Si-Si","r":9.41,"g":0.2},{"s":"Si-Si","r":9.6,"g":0.3},{"s":"Si-Si","r":9.87,"g":0.6},{"s":"Si-Si","r":10.0,"g":0.5}
],
"la": [
{"t":"Si-S","s":"Si-S","r":1.92,"g":16.5},{"t":"Li-S","s":"Li-S","r":2.78,"g":14.8},{"t":"S-S","s":"S-S","r":3.01,"g":8.7},{"t":"Si-Li","s":"Si-Li","r":4.23,"g":13.3},{"t":"Li-Li","s":"Li-Li","r":5.78,"g":8.2},{"t":"Si-Si","s":"Si-Si","r":6.53,"g":14.2}
],
"na": [{"t":"Experimental","r":8.11,"g":16.2},{"t":"(a)","r":9.6,"g":16.7}],
"nb": [{"t":"NVT","r":7.6,"g":12.6},{"t":"(b)","r":9.68,"g":15.7}],
"nc": [{"t":"NPT","r":7.6,"g":13.7},{"t":"(c)","r":9.72,"g":15.2}]
},
"vconcat": [
{
 "width": 586, "height": 120,
 "layer": [
  {"data": {"name": "a"}, "mark": {"type": "line", "strokeWidth": 1.6},
   "encoding": {
    "x": {"field": "r", "type": "quantitative", "scale": {"domain": [1, 10], "nice": false, "zero": false}, "axis": {"values": [1,2,3,4,5,6,7,8,9,10], "title": null}},
    "y": {"field": "g", "type": "quantitative", "scale": {"domain": [0, 20], "nice": false}, "axis": {"values": [0,5,10,15,20], "title": "gᵢⱼ(r)"}},
    "color": {"field": "s", "type": "nominal", "scale": {"domain": ["Si-S","Li-S","S-S","Si-Li","Li-Li","Si-Si"], "range": ["#ff0000","#ffa500","#0000ff","#00ee00","#00ffff","#000000"]}, "legend": null}
   }},
  {"data": {"name": "la"}, "mark": {"type": "text", "fontWeight": "bold", "fontSize": 16, "align": "center", "baseline": "middle"},
   "encoding": {
    "x": {"field": "r", "type": "quantitative", "axis": null},
    "y": {"field": "g", "type": "quantitative", "axis": null},
    "text": {"field": "t"},
    "color": {"field": "s", "type": "nominal", "legend": null}
   }},
  {"data": {"name": "na"}, "mark": {"type": "text", "fontWeight": "bold", "fontSize": 16, "align": "center", "baseline": "middle", "color": "black"},
   "encoding": {
    "x": {"field": "r", "type": "quantitative", "axis": {"orient": "top", "values": [1.5,2.5,3.5,4.5,5.5,6.5,7.5,8.5,9.5], "labels": false, "gridDash": [4, 112], "title": null, "minExtent": 0, "maxExtent": 0}},
    "y": {"field": "g", "type": "quantitative", "axis": {"orient": "right", "values": [2.5,7.5,12.5,17.5], "labels": false, "gridDash": [4, 578], "title": null, "minExtent": 0, "maxExtent": 0}},
    "text": {"field": "t"}
   }}
 ],
 "resolve": {"axis": {"x": "independent", "y": "independent"}}
},
{
 "width": 586, "height": 120,
 "layer": [
  {"data": {"name": "b"}, "mark": {"type": "line", "strokeWidth": 1.6, "interpolate": "monotone"},
   "encoding": {
    "x": {"field": "r", "type": "quantitative", "scale": {"domain": [1, 10], "nice": false, "zero": false}, "axis": {"values": [1,2,3,4,5,6,7,8,9,10], "title": null}},
    "y": {"field": "g", "type": "quantitative", "scale": {"domain": [0, 18], "nice": false}, "axis": {"values": [0,5,10,15], "title": "gᵢⱼ(r)"}},
    "color": {"field": "s", "type": "nominal", "scale": {"domain": ["Si-S","Li-S","S-S","Si-Li","Li-Li","Si-Si"], "range": ["#ff0000","#ffa500","#0000ff","#00ee00","#00ffff","#000000"]}, "legend": null}
   }},
  {"data": {"name": "nb"}, "mark": {"type": "text", "fontWeight": "bold", "fontSize": 16, "align": "center", "baseline": "middle", "color": "black"},
   "encoding": {
    "x": {"field": "r", "type": "quantitative", "axis": {"orient": "top", "values": [1.5,2.5,3.5,4.5,5.5,6.5,7.5,8.5,9.5], "labels": false, "gridDash": [4, 112], "title": null, "minExtent": 0, "maxExtent": 0}},
    "y": {"field": "g", "type": "quantitative", "axis": {"orient": "right", "values": [2.5,7.5,12.5,17.5], "labels": false, "gridDash": [4, 578], "title": null, "minExtent": 0, "maxExtent": 0}},
    "text": {"field": "t"}
   }}
 ],
 "resolve": {"axis": {"x": "independent", "y": "independent"}}
},
{
 "width": 586, "height": 120,
 "layer": [
  {"data": {"name": "c"}, "mark": {"type": "line", "strokeWidth": 1.6, "interpolate": "monotone"},
   "encoding": {
    "x": {"field": "r", "type": "quantitative", "scale": {"domain": [1, 10], "nice": false, "zero": false}, "axis": {"values": [1,2,3,4,5,6,7,8,9,10], "title": "r (Å)", "titleFontSize": 19, "titlePadding": 6}},
    "y": {"field": "g", "type": "quantitative", "scale": {"domain": [0, 18], "nice": false}, "axis": {"values": [0,5,10,15], "title": "gᵢⱼ(r)"}},
    "color": {"field": "s", "type": "nominal", "scale": {"domain": ["Si-S","Li-S","S-S","Si-Li","Li-Li","Si-Si"], "range": ["#ff0000","#ffa500","#0000ff","#00ee00","#00ffff","#000000"]}, "legend": null}
   }},
  {"data": {"name": "nc"}, "mark": {"type": "text", "fontWeight": "bold", "fontSize": 16, "align": "center", "baseline": "middle", "color": "black"},
   "encoding": {
    "x": {"field": "r", "type": "quantitative", "axis": {"orient": "top", "values": [1.5,2.5,3.5,4.5,5.5,6.5,7.5,8.5,9.5], "labels": false, "gridDash": [4, 112], "title": null, "minExtent": 0, "maxExtent": 0}},
    "y": {"field": "g", "type": "quantitative", "axis": {"orient": "right", "values": [2.5,7.5,12.5,17.5], "labels": false, "gridDash": [4, 578], "title": null, "minExtent": 0, "maxExtent": 0}},
    "text": {"field": "t"}
   }}
 ],
 "resolve": {"axis": {"x": "independent", "y": "independent"}}
}
]
}
